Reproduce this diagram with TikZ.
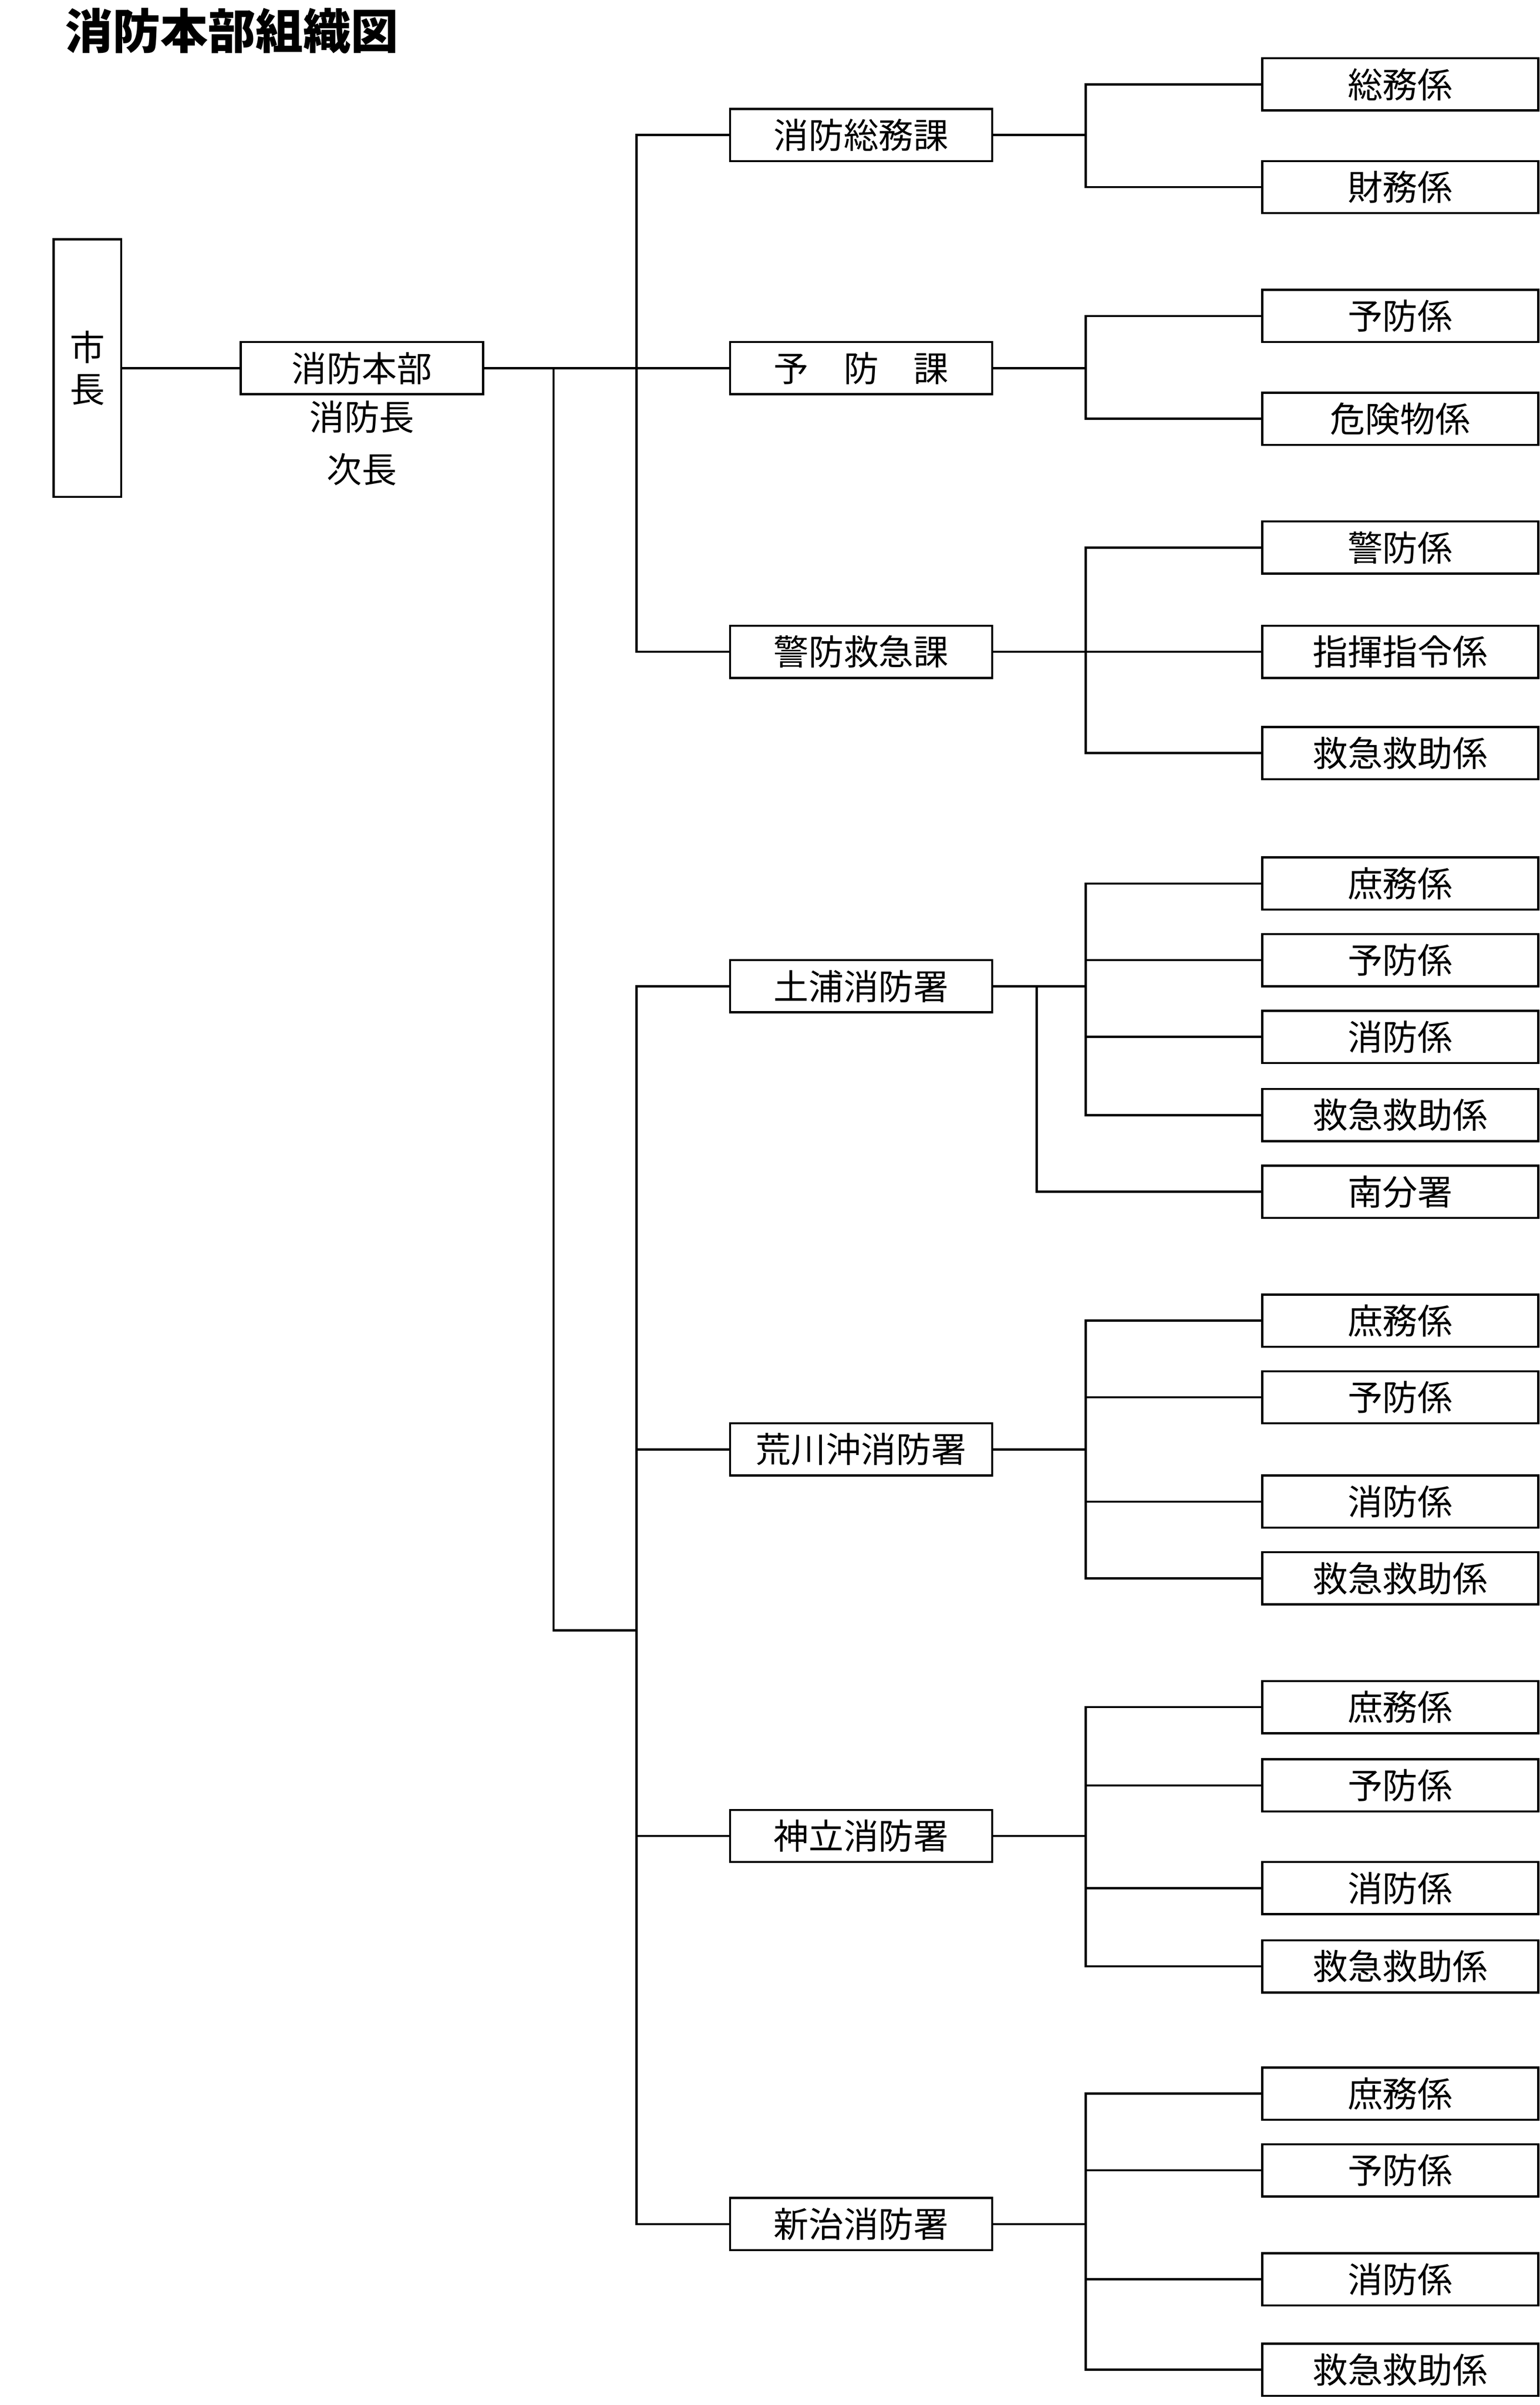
\documentclass[tikz,border=0pt]{standalone}
\usepackage{fontspec}
\newfontfamily\cjk{Noto Sans CJK JP}
\usepackage{tikz}
\tikzset{
    every node/.style={font=\cjk\fontsize{19.5}{23.5}\selectfont},
    orgbox/.style={draw, line width=1.2pt, inner sep=0pt, minimum height=1.02cm},
    hqbox/.style={orgbox, minimum width=4.74cm},
    midbox/.style={orgbox, minimum width=5.13cm},
    kakari/.style={orgbox, minimum width=5.4cm},
    mayorbox/.style={orgbox, minimum width=1.32cm, minimum height=5.04cm, align=center}
}

\begin{document}
\begin{tikzpicture}[x=0.03cm, y=-0.03cm, line width=1.2pt]
    \useasboundingbox (0,0) rectangle (1004,1568);

    % Title
    \node[anchor=west, font=\cjk\bfseries\fontsize{26.5}{30}\selectfont] (title) at (38,20) {消防本部組織図};

    % Mayor and headquarters
    \node[mayorbox] (mayor) at (57,240) {市\\長};
    \node[hqbox] (hq) at (236,240) {消防本部};
    \node (chief) at (236,272) {消防長};
    \node (vice) at (236,306) {次長};
    \draw (mayor.east) -- (hq.west);

    % Sections and stations
    \foreach \i/\y/\t in {1/88/消防総務課, 2/240/予　防　課, 3/425/警防救急課,
                          4/643/土浦消防署, 5/945/荒川沖消防署, 6/1197/神立消防署, 7/1450/新治消防署} {
        \node[midbox] (mid\i) at (561.5,\y) {\t};
        \coordinate (bus\i) at (415,\y);
        \coordinate (j\i) at (708,\y);
        \draw (mid\i.east) -- (j\i);
    }

    % Trunk lines
    \draw (hq.east) -- (mid2.west);
    \foreach \i in {1,3} {
        \draw (bus2) |- (mid\i.west);
    }
    \coordinate (stem) at (361,240);
    \coordinate (low) at (415,1063);
    \draw (stem) |- (low);
    \foreach \i in {4,...,7} {
        \draw (low) |- (mid\i.west);
    }

    % Sub-units
    \foreach \g/\list in {1/{55/総務係, 122/財務係},
                          2/{206/予防係, 273/危険物係},
                          3/{357/警防係, 425/指揮指令係, 491/救急救助係},
                          4/{576/庶務係, 626/予防係, 676/消防係, 727/救急救助係},
                          5/{861/庶務係, 911/予防係, 979/消防係, 1029/救急救助係},
                          6/{1113/庶務係, 1164/予防係, 1231/消防係, 1282/救急救助係},
                          7/{1365/庶務係, 1415/予防係, 1486/消防係, 1545/救急救助係}} {
        \foreach \y/\t in \list {
            \node[kakari] (k\g-\y) at (913,\y) {\t};
            \draw (j\g) |- (k\g-\y.west);
        }
    }

    % Branch office
    \node[kakari] (minami) at (913,777) {南分署};
    \coordinate (j4b) at (676,643);
    \draw (j4b) |- (minami.west);
\end{tikzpicture}
\end{document}
